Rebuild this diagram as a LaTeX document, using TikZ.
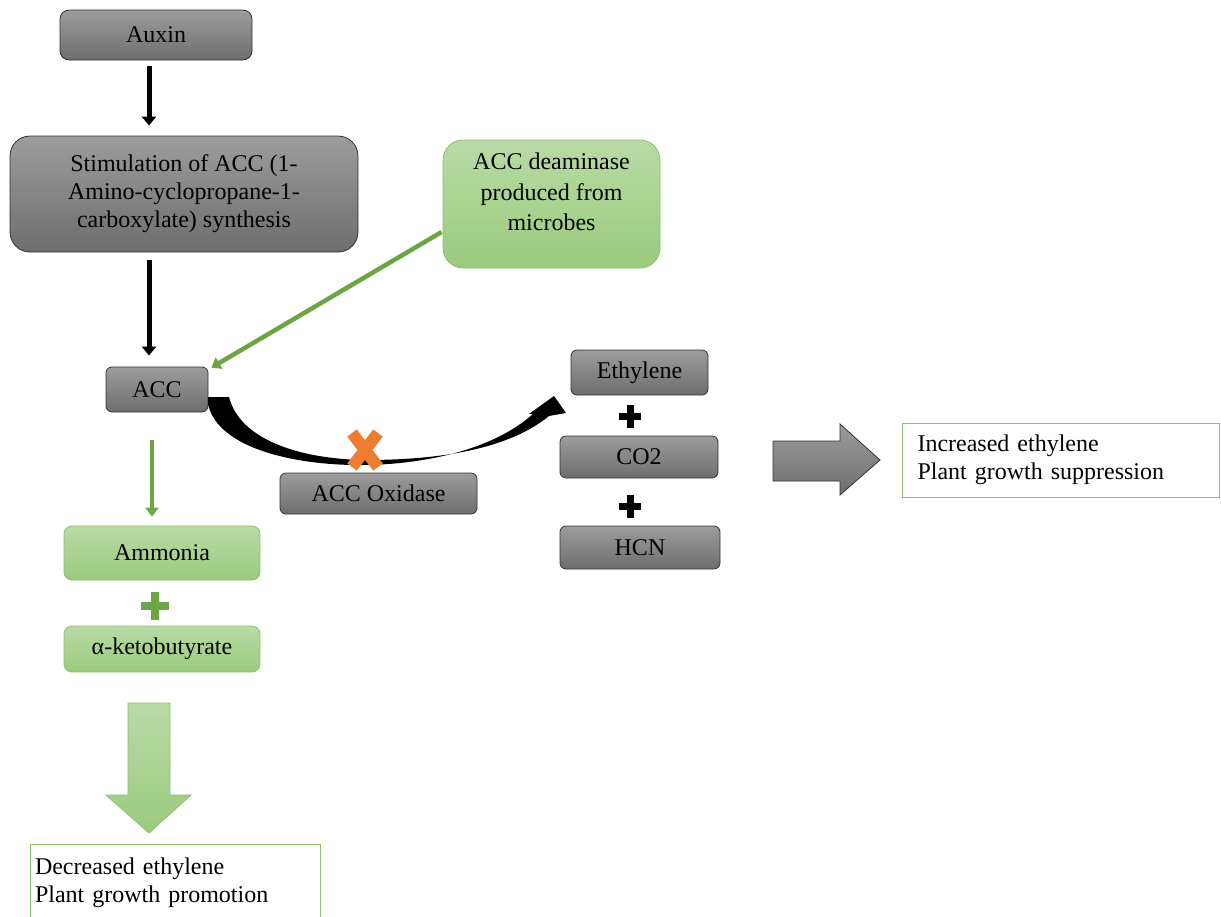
\documentclass[tikz,border=0pt]{standalone}
\usepackage{fontspec}
\setmainfont{Liberation Serif}
\usetikzlibrary{arrows.meta}
\definecolor{gtop}{HTML}{9C9C9C}
\definecolor{gbot}{HTML}{6E6E6E}
\definecolor{grtop}{HTML}{B9DAA5}
\definecolor{grbot}{HTML}{9ACB7E}
\definecolor{grline}{HTML}{6BA544}
\definecolor{grborder}{HTML}{8CC26C}
\definecolor{orng}{HTML}{ED7D31}
\tikzset{
  txt/.style={font=\fontsize{24}{28}\selectfont},
  graybox/.style={txt, draw=black!80, line width=0.8pt, top color=gtop, bottom color=gbot, rounded corners=6pt, align=center, inner sep=0pt},
  greenbox/.style={txt, draw=grborder, line width=0.8pt, top color=grtop, bottom color=grbot, rounded corners=8pt, align=center, inner sep=0pt},
  outbox/.style={txt, draw=grborder, line width=1pt, fill=white, align=left},
  blackarrow/.style={line width=5pt, -{Triangle[width=14pt,length=9pt]}},
  greenarrow/.style={draw=grline, line width=4.5pt, -{Triangle[width=13pt,length=9pt]}},
  plusmark/.style={line width=7pt},
}
\begin{document}
\begin{tikzpicture}[x=1pt,y=-1pt]
\useasboundingbox (0,0) rectangle (1221,916);
\clip (0,0) rectangle (1221,916);

% boxes
\node[graybox, minimum width=192pt, minimum height=50pt, rounded corners=9pt] (auxin) at (156,35) {Auxin};
\node[graybox, minimum width=348pt, minimum height=116pt, rounded corners=20pt] (stim) at (184,194) {Stimulation of ACC (1-\\Amino-cyclopropane-1-\\carboxylate) synthesis};
\node[graybox, minimum width=102pt, minimum height=45pt] (acc) at (157,389.5) {ACC};
\node[greenbox, minimum width=196pt, minimum height=54pt] (amm) at (162,553) {Ammonia};
\node[greenbox, minimum width=196pt, minimum height=46pt] (keto) at (162,649) {α-ketobutyrate};
\node[greenbox, minimum width=217pt, minimum height=128pt, rounded corners=20pt, font=\fontsize{24}{30.5}\selectfont] (deam) at (551.5,204) {ACC deaminase\\produced from\\microbes\\[-6pt]};
\node[graybox, minimum width=197pt, minimum height=41pt] (oxid) at (378.5,493.5) {ACC Oxidase};
\node[graybox, minimum width=137pt, minimum height=45pt] (eth) at (639.5,372.5) {Ethylene};
\node[graybox, minimum width=158pt, minimum height=42pt] (co2) at (639,457) {CO2};
\node[graybox, minimum width=160pt, minimum height=43pt] (hcn) at (640,547.5) {HCN};
\node[outbox, minimum width=317pt, minimum height=74pt, text width=286pt, inner xsep=15.5pt, inner ysep=0pt] (incr) at (1060.5,460) {Increased ethylene\\Plant growth suppression\\[-6pt]};
\node[outbox, text width=280pt, inner xsep=5pt, inner ysep=13pt, anchor=north] (decr) at (175,844) {Decreased ethylene\\Plant growth promotion\\[30pt]};

% connectors
\draw[blackarrow] ([xshift=-7pt,yshift=-6pt]auxin.south) -- ([xshift=-35pt,yshift=10pt]stim.north);
\draw[blackarrow] ([xshift=-35pt,yshift=-8pt]stim.south) -- ([xshift=-8pt,yshift=11pt]acc.north);
\draw[greenarrow] ([xshift=-1pt,yshift=-28pt]deam.west) -- ([xshift=3pt,yshift=-1pt]acc.north east);
\draw[greenarrow] ([xshift=-5pt,yshift=-28pt]acc.south) -- ([xshift=-10pt,yshift=9pt]amm.north);

% curved arrow ACC -> Ethylene
\fill[black] (208,397) -- (208,404) .. controls (218,450) and (300,466) .. (365,465)
  .. controls (430,464) and (495,448) .. (533,414)
  -- (529,414) -- (554,396) -- (566,413) -- (549,416)
  .. controls (505,452) and (430,460) .. (365,460)
  .. controls (300,459) and (240,440) .. (229,397) -- cycle;

% orange cross
\draw[orng, line width=12pt] (352,433) -- (378,467) (378,433) -- (352,467);

% plus signs
\draw[black, plusmark] (630,405) -- (630,428) (619,416.5) -- (641,416.5);
\draw[black, plusmark] (630,495) -- (630,518) (619,506.5) -- (641,506.5);
\draw[grline, line width=8pt] (155,592) -- (155,620) (141,606) -- (169,606);

% big green arrow down
\shade[top color=grtop, bottom color=grbot, draw=grborder, line width=0.8pt]
  (128,703) -- (170,703) -- (170,795) -- (191,795) -- (149,833) -- (106,795) -- (128,795) -- cycle;

% gray block arrow right
\shade[top color=gtop, bottom color=gbot, draw=black!80, line width=0.8pt]
  (773,441) -- (840,441) -- (840,424) -- (880,460) -- (840,495) -- (840,481) -- (773,481) -- cycle;
\end{tikzpicture}
\end{document}
